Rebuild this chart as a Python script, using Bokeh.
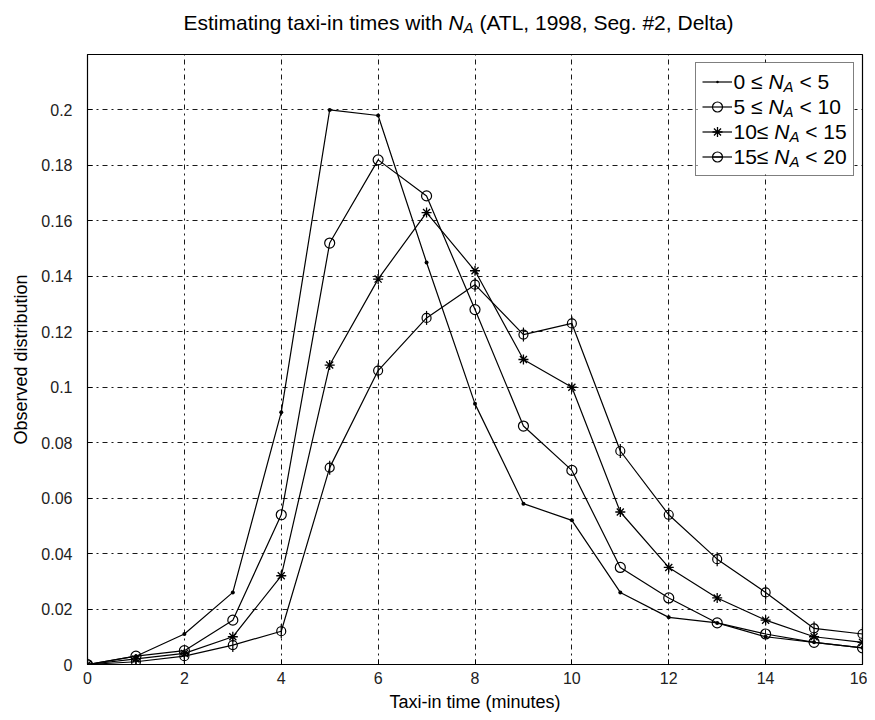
from bokeh.plotting import figure
from bokeh.layouts import column
from bokeh.models import Range1d, FixedTicker, Legend, LegendItem, ColumnDataSource
from bokeh.core.properties import value
from bokeh.embed import file_html
from bokeh.resources import INLINE
import math

# ---------------- data ----------------
taxi_in_minutes = list(range(17))
na_0_5 = [0, 0.003, 0.011, 0.026, 0.091, 0.200, 0.198, 0.145, 0.094, 0.058, 0.052,
          0.026, 0.017, 0.015, 0.010, 0.008, 0.006]
na_5_10 = [0, 0.003, 0.005, 0.016, 0.054, 0.152, 0.182, 0.169, 0.128, 0.086, 0.070,
           0.035, 0.024, 0.015, 0.011, 0.008, 0.006]
na_10_15 = [0, 0.002, 0.004, 0.010, 0.032, 0.108, 0.139, 0.163, 0.142, 0.110, 0.100,
            0.055, 0.035, 0.024, 0.016, 0.010, 0.008]
na_15_20 = [0, 0.001, 0.003, 0.007, 0.012, 0.071, 0.106, 0.125, 0.137, 0.119, 0.123,
            0.077, 0.054, 0.038, 0.026, 0.013, 0.011]

legend_prefix = ["0 \u2264", "5 \u2264", "10\u2264", "15\u2264"]
legend_suffix = ["< 5", "< 10", "< 15", "< 20"]

x_ticks = [0, 2, 4, 6, 8, 10, 12, 14, 16]
y_ticks = [0, 0.02, 0.04, 0.06, 0.08, 0.1, 0.12, 0.14, 0.16, 0.18, 0.2]
y_tick_labels = ["0", "0.02", "0.04", "0.06", "0.08", "0.1", "0.12", "0.14",
                 "0.16", "0.18", "0.2"]

title_before = "Estimating taxi-in times with"
title_after = "(ATL, 1998, Seg. #2, Delta)"

FONT = "Liberation Sans"
X0, X1 = 0, 16
Y0, Y1 = 0, 0.22

# ---------------- layout constants (pixels) ----------------
W = 867
TITLE_H = 52
FR_L, FR_R, FR_T, FR_B = 87, 862, 54, 664   # frame in page pixels
BOTTOM = 50
MAIN_H = FR_B - TITLE_H + BOTTOM


def dx(px):
    return X0 + (px - FR_L) / (FR_R - FR_L) * (X1 - X0)


def dy(py):
    return Y0 + (FR_B - py) / (FR_B - FR_T) * (Y1 - Y0)


ARIAL = {"0": .556, "1": .556, "2": .556, "5": .556, " ": .278, "\u2264": .549,
         "<": .584, "E": .667, "s": .5, "t": .278, "i": .222, "m": .833, "a": .556,
         "n": .556, "g": .556, "x": .5, "-": .333, "e": .556, "w": .722, "h": .556}


def tw(s, size):
    return sum(ARIAL.get(c, .556) for c in s) * size


# ---------------- main figure ----------------
p = figure(width=W, height=MAIN_H, x_range=Range1d(X0, X1), y_range=Range1d(Y0, Y1),
           output_backend="svg", toolbar_location=None, title=None,
           min_border_left=FR_L, min_border_right=W - FR_R,
           min_border_top=FR_T - TITLE_H, min_border_bottom=BOTTOM)
p.outline_line_color = "black"
p.outline_line_width = 1.2
p.background_fill_color = "white"
p.border_fill_color = "white"

for ax in (p.xaxis[0], p.yaxis[0]):
    ax.axis_line_color = "black"
    ax.major_tick_in = 5
    ax.major_tick_out = 0
    ax.minor_tick_line_color = None
    ax.major_label_text_font = FONT
    ax.major_label_text_font_size = "16px"
    ax.major_label_text_color = "#222222"
    ax.axis_label_text_font = FONT
    ax.axis_label_text_font_size = "18px"
    ax.axis_label_text_font_style = "normal"
    ax.axis_label_text_color = "black"

p.xaxis.ticker = FixedTicker(ticks=x_ticks)
p.yaxis.ticker = FixedTicker(ticks=y_ticks)
p.yaxis.major_label_overrides = {t: l for t, l in zip(y_ticks, y_tick_labels)}
p.xaxis.major_label_standoff = 7
p.yaxis.major_label_standoff = 15
p.xaxis.axis_label = "Taxi-in time (minutes)"
p.yaxis.axis_label = "Observed distribution"
p.xaxis.axis_label_standoff = 5
p.yaxis.axis_label_standoff = 7

for g in (p.xgrid[0], p.ygrid[0]):
    g.grid_line_color = "black"
    g.grid_line_alpha = 0.9
    g.grid_line_width = 1
    g.grid_line_dash = "5 4 2 4"

# legend background (white box hiding the grid), drawn below the series
LG_L, LG_R, LG_T = 697, 854, 62
PAD, ROW, GW = 6, 25, 30
LG_B = LG_T + 2 * PAD + 4 * ROW
p.quad(left=[dx(LG_L)], right=[dx(LG_R)], top=[dy(LG_T)], bottom=[dy(LG_B)],
       fill_color="white", line_color=None)

# ---------------- series ----------------
LW = 1.2
items = []

l1 = p.line(taxi_in_minutes, na_0_5, line_color="black", line_width=LW)
m1 = p.scatter(taxi_in_minutes, na_0_5, marker="dot", size=16,
               line_color="black", fill_color="black")
items.append([l1, m1])

l2 = p.line(taxi_in_minutes, na_5_10, line_color="black", line_width=LW)
m2 = p.scatter(taxi_in_minutes, na_5_10, marker="circle", size=10,
               line_color="black", line_width=1.2, fill_color=None)
items.append([l2, m2])

l3 = p.line(taxi_in_minutes, na_10_15, line_color="black", line_width=LW)
m3 = p.scatter(taxi_in_minutes, na_10_15, marker="asterisk", size=10,
               line_color="black", line_width=1.3)
items.append([l3, m3])

l4 = p.line(taxi_in_minutes, na_15_20, line_color="black", line_width=LW)
m4 = p.scatter(taxi_in_minutes, na_15_20, marker="circle", size=9,
               line_color="black", line_width=1.2, fill_color=None)
m4b = p.scatter(taxi_in_minutes, na_15_20, marker="dash", size=14, angle=math.pi / 2,
                line_color="black", line_width=1.2)
items.append([l4, m4, m4b])

legend = Legend(items=[LegendItem(label=" ", renderers=r) for r in items],
                location="top_right", margin=FR_R - LG_R, padding=PAD, spacing=0,
                glyph_width=GW, glyph_height=ROW, label_height=ROW,
                label_width=(LG_R - LG_L) - 2 * PAD - GW, label_standoff=0,
                border_line_color="black", border_line_width=1,
                background_fill_alpha=0,
                label_text_font_size="2px")
p.add_layout(legend)

# ---------------- legend texts (italic N, subscript A) ----------------
LS = 21
SUB = 15
txt = {"x": [], "y": [], "t": [], "size": [], "style": []}


def put(store, x, y, t, size, style):
    store["x"].append(x)
    store["y"].append(y)
    store["t"].append(t)
    store["size"].append(f"{size}px")
    store["style"].append(style)


for i, (pre, suf) in enumerate(zip(legend_prefix, legend_suffix)):
    mid = LG_T + PAD + ROW / 2 + ROW * i
    x = LG_L + PAD + GW
    put(txt, dx(x), dy(mid), pre, LS, "normal")
    x += tw(pre + " ", LS)
    put(txt, dx(x), dy(mid), "N", LS, "italic")
    x += 0.722 * LS
    put(txt, dx(x), dy(mid + 5), "A", SUB, "italic")
    x += 0.667 * SUB + tw(" ", LS)
    put(txt, dx(x), dy(mid), suf, LS, "normal")

p.text(x="x", y="y", text="t", text_font_size="size", text_font_style="style",
       source=ColumnDataSource(txt), text_font=value(FONT), text_color="black",
       text_baseline="middle", text_align="left")

# ---------------- title figure (x in page pixels, y in px from its bottom) ----------------
tf = figure(width=W, height=TITLE_H, x_range=Range1d(FR_L, FR_R), y_range=Range1d(0, TITLE_H),
            output_backend="svg", toolbar_location=None, title=None,
            min_border_left=FR_L, min_border_right=W - FR_R,
            min_border_top=0, min_border_bottom=0)
tf.axis.visible = False
tf.grid.visible = False
tf.outline_line_color = None

TS = 21
tmid = 21.5           # caps centre, px from top
tt = {"x": [], "y": [], "t": [], "size": [], "style": []}
x = 183
put(tt, x, TITLE_H - tmid, title_before, TS, "normal")
x += tw(title_before + " ", TS)
put(tt, x, TITLE_H - tmid, "N", TS, "italic")
x += 0.722 * TS
put(tt, x, TITLE_H - tmid - 5, "A", SUB, "italic")
x += 0.667 * SUB + tw(" ", TS)
put(tt, x, TITLE_H - tmid, title_after, TS, "normal")
tf.text(x="x", y="y", text="t", text_font_size="size", text_font_style="style",
        source=ColumnDataSource(tt), text_font=value(FONT), text_color="black",
        text_baseline="middle", text_align="left")

layout = column(tf, p, spacing=0)
open("out.html", "w").write(file_html(layout, INLINE))
